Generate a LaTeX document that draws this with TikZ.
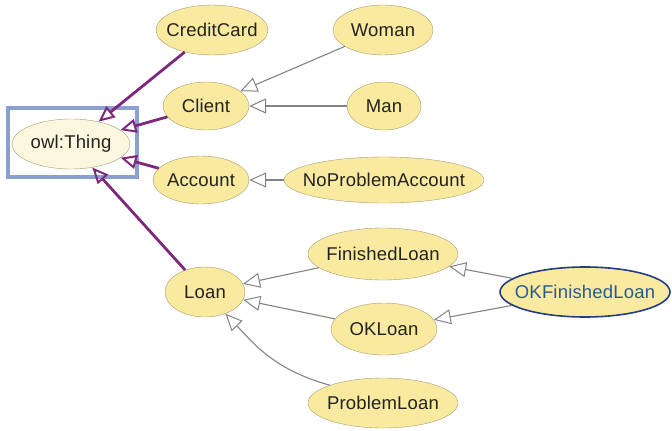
\documentclass[tikz,border=0pt]{standalone}
\usepackage{fontspec}
\setmainfont[LetterSpace=1]{Liberation Sans}
\usetikzlibrary{arrows.meta}
\usetikzlibrary{shapes}

% label that leaves the ellipse size to minimum width/height
\newcommand{\clsname}[1]{\makebox[0pt]{#1}}

\begin{document}
\begin{tikzpicture}[x=1pt,y=-1pt,
    cls/.style={
      ellipse,
      fill=lyellow,
      draw=bordergray,
      inner sep=0pt,
      font=\fontsize{18.5}{21}\selectfont,
      text=textgray
    },
    isa/.style={-{Triangle[open,length=17pt,width=15pt,line width=1pt]},draw=edgegray,line width=1.1pt},
    topisa/.style={-{Triangle[open,length=16pt,width=14pt,line width=2pt]},draw=dpurple,line width=2.8pt}
  ]

\definecolor{lyellow}{RGB}{250,234,160}
\definecolor{lcream}{RGB}{251,246,222}
\definecolor{bordergray}{RGB}{165,155,115}
\definecolor{textgray}{RGB}{35,35,30}
\definecolor{edgegray}{RGB}{130,130,135}
\definecolor{dpurple}{RGB}{125,40,125}
\definecolor{boxblue}{RGB}{140,160,205}
\definecolor{dblue}{RGB}{35,60,130}
\definecolor{tblue}{RGB}{40,90,150}

\useasboundingbox (0,0) rectangle (672,431);

% root class and its frame
\draw[boxblue,line width=3.5pt] (8,108) rectangle (137,177);
\node[cls,fill=lcream,minimum width=118pt,minimum height=50pt] (thing) at (71,144) {\clsname{owl:Thing}};

% first level
\node[cls,minimum width=112pt,minimum height=50pt] (cc) at (212,30) {\clsname{CreditCard}};
\node[cls,minimum width=86pt,minimum height=48pt] (client) at (206,106) {\clsname{Client}};
\node[cls,minimum width=96pt,minimum height=48pt] (acc) at (201,180) {\clsname{Account}};
\node[cls,minimum width=80pt,minimum height=50pt] (loan) at (205,292) {\clsname{Loan}};

% subclasses
\node[cls,minimum width=100pt,minimum height=50pt] (woman) at (383,30) {\clsname{Woman}};
\node[cls,minimum width=74pt,minimum height=48pt] (man) at (384,106) {\clsname{Man}};
\node[cls,minimum width=200pt,minimum height=46pt] (npacc) at (384,180) {\clsname{NoProblemAccount}};
\node[cls,minimum width=150pt,minimum height=52pt] (fl) at (383,254) {\clsname{FinishedLoan}};
\node[cls,minimum width=106pt,minimum height=52pt] (okl) at (384,329) {\clsname{OKLoan}};
\node[cls,minimum width=150pt,minimum height=50pt] (pl) at (383,403) {\clsname{ProblemLoan}};
\node[cls,draw=dblue,line width=1.6pt,text=tblue,minimum width=170pt,minimum height=50pt] (okfl) at (585,292) {\clsname{OKFinishedLoan}};

\draw[topisa] (cc) -- (thing);
\draw[topisa] (client) -- (thing);
\draw[topisa] (acc) -- (thing);
\draw[topisa] (loan) -- (thing);

\draw[isa] (woman) -- (client);
\draw[isa] (man) -- (client);
\draw[isa] (npacc) -- (acc);
\draw[isa] (fl) -- (loan);
\draw[isa] (okl) -- (loan);
\draw[isa] (pl.north west) .. controls (275,370) and (255,345) .. (loan);
\draw[isa] (okfl) -- (fl);
\draw[isa] (okfl) -- (okl);

\end{tikzpicture}
\end{document}
